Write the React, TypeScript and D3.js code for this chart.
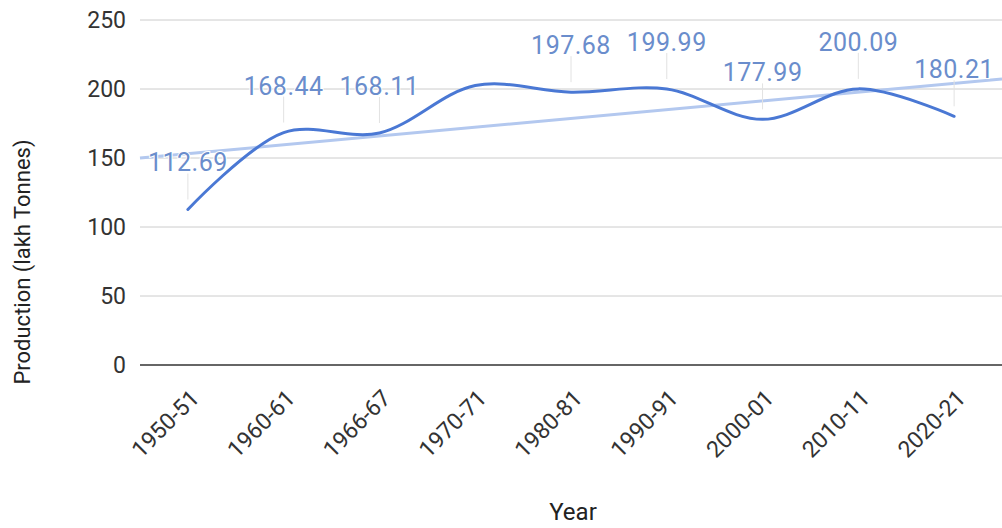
import React from "react";
import * as d3 from "d3";

const categories = ["1950-51", "1960-61", "1966-67", "1970-71", "1980-81", "1990-91", "2000-01", "2010-11", "2020-21"];
const production = [112.69, 168.44, 168.11, 202.5, 197.68, 199.99, 177.99, 200.09, 180.21];
const annotations = ["112.69", "168.44", "168.11", null, "197.68", "199.99", "177.99", "200.09", "180.21"];
const yTicks = [0, 50, 100, 150, 200, 250];

const W = 1002;
const H = 528;
const FONT = "Roboto, Arial, sans-serif";

export default function App() {
  const x = d3.scalePoint<string>().domain(categories).range([140, 1002]).padding(0.5);
  const y = d3.scaleLinear().domain([0, 250]).range([365, 20]);

  const pts: [number, number][] = categories.map((c, i) => [x(c) as number, y(production[i])]);
  const line = d3.line<[number, number]>().x(d => d[0]).y(d => d[1]).curve(d3.curveCatmullRom.alpha(0.5));

  // linear trendline over index
  const n = production.length;
  const mx = d3.mean(d3.range(n)) as number;
  const my = d3.mean(production) as number;
  const slope = d3.sum(d3.range(n), i => (i - mx) * (production[i] - my)) / d3.sum(d3.range(n), i => (i - mx) * (i - mx));
  const icpt = my - slope * mx;
  const step = x.step();
  const x0 = x(categories[0]) as number;
  const idxToX = (i: number) => x0 + i * step;
  const tStart = -0.5;
  const tEnd = n - 0.5;
  const trend = d3.line<number>().x(i => idxToX(i)).y(i => y(icpt + slope * i));

  return (
    <svg width={W} height={H} style={{ position: "absolute", left: 0, top: 0, background: "#fff" }}>
      <rect x={0} y={0} width={W} height={H} fill="#fff" />
      {yTicks.map(t => (
        <g key={t}>
          <line x1={140} x2={1002} y1={y(t)} y2={y(t)} stroke={t === 0 ? "#333" : "#cccccc"} strokeWidth={t === 0 ? 1.6 : 1} />
          <text x={126} y={y(t)} dy="0.36em" textAnchor="end" fontFamily={FONT} fontSize={23} fill="#333">{t}</text>
        </g>
      ))}
      <path d={trend([tStart, tEnd]) as string} fill="none" stroke="#b3c8ef" strokeWidth={3} />
      {annotations.map((a, i) =>
        a ? (
          <line key={"s" + i} x1={pts[i][0]} x2={pts[i][0]} y1={pts[i][1] - 36} y2={pts[i][1] - 10} stroke="#e2e2e2" strokeWidth={1} />
        ) : null
      )}
      <path d={line(pts) as string} fill="none" stroke="#4a78d4" strokeWidth={3} strokeLinecap="round" />
      {annotations.map((a, i) =>
        a ? (
          <text key={"a" + i} x={pts[i][0]} y={pts[i][1] - 38} textAnchor="middle" fontFamily={FONT} fontSize={25}
            letterSpacing={0.5} fill="#6a8dcc" stroke="#fff" strokeWidth={2} paintOrder="stroke">{a}</text>
        ) : null
      )}
      {categories.map(c => (
        <text key={c} transform={`translate(${(x(c) as number) + 7},394) rotate(-45)`} dy="0.35em" textAnchor="end"
          fontFamily={FONT} fontSize={23} fill="#333">{c}</text>
      ))}
      <text transform="translate(30,262) rotate(-90)" textAnchor="middle" fontFamily={FONT} fontSize={22} fill="#222">Production (lakh Tonnes)</text>
      <text x={573} y={520} textAnchor="middle" fontFamily={FONT} fontSize={24} fill="#222">Year</text>
    </svg>
  );
}
